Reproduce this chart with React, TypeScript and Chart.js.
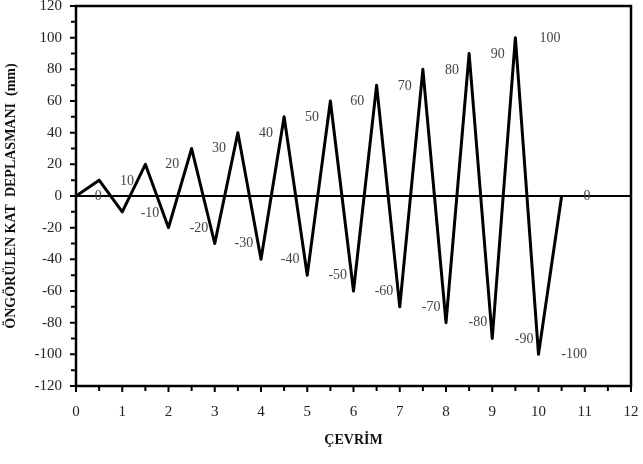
import React, { useEffect, useRef } from "react";
import { Chart, registerables } from "chart.js";

Chart.register(...registerables);

const cycleX = [0, 0.5, 1, 1.5, 2, 2.5, 3, 3.5, 4, 4.5, 5, 5.5, 6, 6.5, 7, 7.5, 8, 8.5, 9, 9.5, 10, 10.5];
const displacement = [0, 10, -10, 20, -20, 30, -30, 40, -40, 50, -50, 60, -60, 70, -70, 80, -80, 90, -90, 100, -100, 0];

const labelText = ["0", "10", "-10", "20", "-20", "30", "-30", "40", "-40", "50", "-50", "60", "-60", "70", "-70", "80", "-80", "90", "-90", "100", "-100", "0"];
const labelX = [0.48, 1.1, 1.6, 2.08, 2.66, 3.09, 3.63, 4.11, 4.63, 5.1, 5.66, 6.08, 6.66, 7.11, 7.68, 8.13, 8.69, 9.12, 9.69, 10.25, 10.77, 11.05];
const labelY = [-0.5, 9.5, -10.7, 20.2, -20.2, 30.3, -29.7, 39.8, -39.8, 49.9, -49.9, 60, -60, 69.5, -70, 79.6, -80, 89.7, -90.3, 99.8, -99.8, 0];

const SERIF = "'Liberation Serif', 'Times New Roman', serif";

const overlayPlugin = {
  id: "overlay",
  beforeDatasetsDraw(chart: any) {
    const { ctx, chartArea, scales } = chart;
    const y0 = scales.y.getPixelForValue(0);
    ctx.save();
    ctx.strokeStyle = "#000";
    ctx.lineWidth = 2;
    ctx.beginPath();
    ctx.moveTo(chartArea.left, y0);
    ctx.lineTo(chartArea.right, y0);
    ctx.stroke();
    ctx.restore();
  },
  afterDatasetsDraw(chart: any) {
    const { ctx, chartArea, scales } = chart;
    ctx.save();
    ctx.strokeStyle = "#000";
    // tick marks
    ctx.lineWidth = 2;
    ctx.beginPath();
    scales.x.ticks.forEach((t: any) => {
      const px = scales.x.getPixelForValue(t.value);
      const major = t.value % 1 === 0;
      ctx.moveTo(px, chartArea.bottom);
      ctx.lineTo(px, chartArea.bottom + (major ? 6 : 5));
    });
    scales.y.ticks.forEach((t: any) => {
      const py = scales.y.getPixelForValue(t.value);
      const major = t.value % 20 === 0;
      ctx.moveTo(chartArea.left, py);
      ctx.lineTo(chartArea.left - (major ? 6 : 5), py);
    });
    ctx.stroke();
    // frame
    ctx.lineWidth = 2.5;
    ctx.strokeRect(chartArea.left, chartArea.top, chartArea.right - chartArea.left, chartArea.bottom - chartArea.top);
    // peak labels
    ctx.fillStyle = "#444";
    ctx.font = `14px ${SERIF}`;
    ctx.textAlign = "center";
    ctx.textBaseline = "middle";
    for (let i = 0; i < labelText.length; i++) {
      ctx.fillText(labelText[i], scales.x.getPixelForValue(labelX[i]), scales.y.getPixelForValue(labelY[i]));
    }
    ctx.restore();
  },
};

export default function App() {
  const ref = useRef<HTMLCanvasElement>(null);
  useEffect(() => {
    document.body.style.margin = "0";
    const chart = new Chart(ref.current!, {
      type: "line",
      data: {
        datasets: [
          {
            data: cycleX.map((x, i) => ({ x, y: displacement[i] })),
            borderColor: "#000",
            borderWidth: 3,
            borderJoinStyle: "round",
            pointRadius: 0,
            tension: 0,
            fill: false,
          },
        ],
      },
      options: {
        animation: false,
        responsive: false,
        maintainAspectRatio: false,
        layout: { padding: { left: 3, right: 12, top: 6, bottom: 11 } },
        plugins: { legend: { display: false }, tooltip: { enabled: false } },
        scales: {
          x: {
            type: "linear",
            min: 0,
            max: 12,
            afterFit: (s: any) => { s.height = 67; },
            border: { display: false },
            grid: {
              drawOnChartArea: false,
              drawTicks: true,
              tickLength: 17,
              tickColor: "rgba(0,0,0,0)",
            },
            ticks: {
              stepSize: 0.5,
              autoSkip: false,
              maxRotation: 0,
              padding: 0,
              color: "#222",
              font: { family: SERIF, size: 15 },
              callback: (v: any) => (Number(v) % 1 === 0 ? String(v) : ""),
            },
            title: {
              display: true,
              text: "ÇEVRİM",
              color: "#111",
              font: { family: SERIF, size: 14, weight: "bold" },
            },
          },
          y: {
            type: "linear",
            min: -120,
            max: 120,
            afterFit: (s: any) => { s.width = 73; },
            border: { display: false },
            grid: {
              drawOnChartArea: false,
              drawTicks: true,
              tickLength: 14,
              tickColor: "rgba(0,0,0,0)",
            },
            ticks: {
              stepSize: 10,
              autoSkip: false,
              padding: 0,
              color: "#222",
              font: { family: SERIF, size: 15, lineHeight: 0.8 },
              callback: (v: any) => (Number(v) % 20 === 0 ? String(v) : ""),
            },
            title: {
              display: true,
              text: "ÖNGÖRÜLEN KAT  DEPLASMANI  (mm)",
              color: "#111",
              padding: { top: 0, bottom: 0 },
              font: { family: SERIF, size: 14, weight: "bold" },
            },
          },
        },
      },
      plugins: [overlayPlugin],
    } as any);
    return () => chart.destroy();
  }, []);
  return (
    <div style={{ position: "absolute", left: 0, top: 0, width: 643, height: 464, background: "#fff" }}>
      <canvas ref={ref} width={643} height={464} style={{ width: 643, height: 464 }} />
    </div>
  );
}
